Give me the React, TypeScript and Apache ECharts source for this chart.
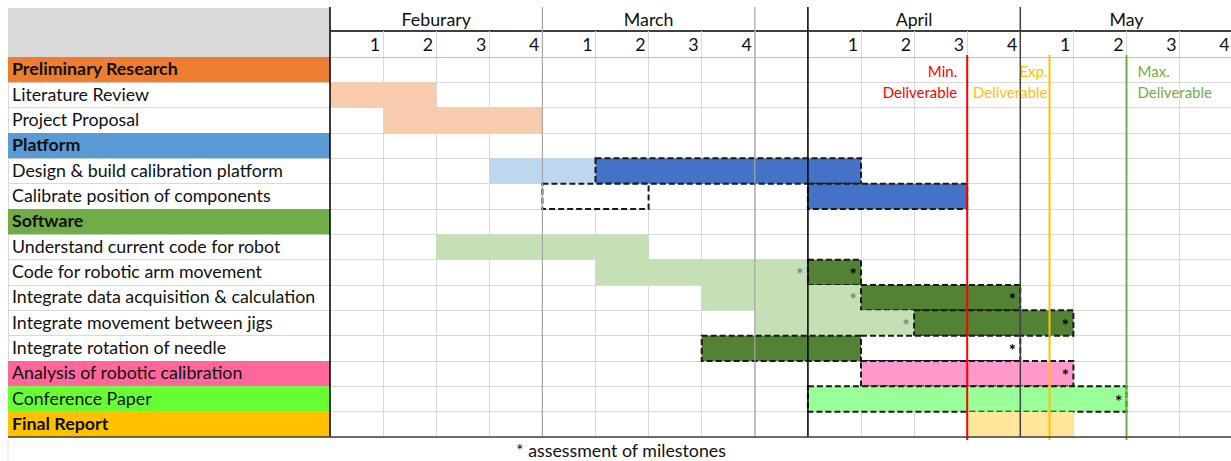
import React, { useEffect, useRef } from 'react';
import * as echarts from 'echarts';

// ---------- data ----------
const tasks = [
  'Preliminary Research',
  'Literature Review',
  'Project Proposal',
  'Platform',
  'Design & build calibration platform',
  'Calibrate position of components',
  'Software',
  'Understand current code for robot',
  'Code for robotic arm movement',
  'Integrate data acquisition & calculation',
  'Integrate movement between jigs',
  'Integrate rotation of needle',
  'Analysis of robotic calibration',
  'Conference Paper',
  'Final Report',
];
const taskGroup = ['prelim', '', '', 'platform', '', '', 'software', '', '', '', '', '', 'analysis', 'paper', 'report'];

const months = ['Feburary', 'March', 'April', 'May'];
const monthStart = [0, 4, 9, 13];
const monthEnd = [4, 8, 13, 17];
const weekLabels = ['1', '2', '3', '4', '1', '2', '3', '4', '', '1', '2', '3', '4', '1', '2', '3', '4'];
const dividerWeek = [0, 4, 8, 9, 13];
const dividerKind = ['strong', 'light', 'light', 'strong', 'medium'];

// bars: row index, start week, end week, kind, milestone mark
const barRow = [1, 2, 4, 4, 5, 5, 7, 8, 8, 9, 9, 10, 10, 11, 11, 12, 13, 14];
const barStart = [0, 1, 3, 5, 4, 9, 2, 5, 9, 7, 10, 8, 11, 7, 10, 10, 9, 12];
const barEnd = [2, 4, 5, 10, 6, 12, 6, 9, 10, 10, 13, 11, 14, 10, 13, 14, 15, 14];
const barKind = ['prelim', 'prelim', 'platPlan', 'plat', 'empty', 'plat', 'swPlan', 'swPlan', 'sw', 'swPlan', 'sw', 'swPlan', 'sw', 'sw', 'empty', 'analysis', 'paper', 'report'];
const barMark = ['', '', '', '', '', '', '', 'gray', 'black', 'gray', 'black', 'gray', 'black', '', 'black', 'black', 'black', ''];

const milestoneLabels = ['Min.\nDeliverable', 'Exp.\nDeliverable', 'Max.\nDeliverable'];
const milestoneWeek = [12, 13.55, 15];
const footnote = '* assessment of milestones';

// ---------- styles ----------
const FONT = 'Lato, "Open Sans", sans-serif';
const FS = 17.8;
const FS_SMALL = 15;
const KIND: Record<string, { fill: string; dash: boolean }> = {
  prelim: { fill: '#F8CBAD', dash: false },
  platPlan: { fill: '#BDD7EE', dash: false },
  plat: { fill: '#4472C4', dash: true },
  empty: { fill: '#FFFFFF', dash: true },
  swPlan: { fill: '#C5E0B4', dash: false },
  sw: { fill: '#548235', dash: true },
  analysis: { fill: '#FF99CC', dash: true },
  paper: { fill: '#99FF99', dash: true },
  report: { fill: '#FFE699', dash: false },
};
const GROUP_FILL: Record<string, string> = {
  prelim: '#ED7D31',
  platform: '#5B9BD5',
  software: '#70AD47',
  analysis: '#FF6699',
  paper: '#66FF33',
  report: '#FFC000',
};
const GROUP_BOLD: Record<string, boolean> = { prelim: true, platform: true, software: true, report: true };
const DIVIDER_COLOR: Record<string, string> = { strong: '#000000', light: '#A6A6A6', medium: '#404040' };
const MILESTONE_COLOR = ['#FF0000', '#FFC000', '#70AD47'];
const MILESTONE_ALIGN = ['right', 'right', 'left'];
const MILESTONE_DX = [-10, -2, 11];

const LEFT = 330;
const COL_W = 53.1;
const HEADER_TOP = 8;
const GRID_TOP = 57;
const GRID_H = 380;
const TEXT = '#111111';

export default function App() {
  const ref = useRef<HTMLDivElement>(null);
  useEffect(() => {
    if (!ref.current) return;
    const chart = echarts.init(ref.current, undefined, { renderer: 'svg' });
    const nWeeks = weekLabels.length;
    const nRows = tasks.length;

    const option: any = {
      animation: false,
      backgroundColor: '#FFFFFF',
      grid: [
        { left: LEFT, top: GRID_TOP, width: nWeeks * COL_W, height: GRID_H, containLabel: false },
        { left: 8, top: GRID_TOP, width: LEFT - 8, height: GRID_H, containLabel: false },
      ],
      xAxis: [
        {
          gridIndex: 0,
          type: 'value',
          position: 'top',
          min: 0,
          max: nWeeks,
          interval: 1,
          axisLine: { show: true, lineStyle: { color: '#BFBFBF', width: 1 } },
          axisTick: { show: true, length: 26, lineStyle: { color: '#D9D9D9' } },
          splitLine: { show: true, lineStyle: { color: '#D9D9D9', width: 1 } },
          axisLabel: {
            show: true,
            showMinLabel: true,
            showMaxLabel: true,
            margin: 13,
            align: 'right',
            verticalAlign: 'middle',
            padding: [0, 3, 0, 0],
            color: TEXT,
            fontFamily: FONT,
            fontSize: FS,
            formatter: (v: number) => (v >= 1 ? weekLabels[v - 1] : ''),
          },
        },
        {
          gridIndex: 0,
          type: 'value',
          position: 'top',
          offset: 26,
          min: 0,
          max: nWeeks,
          interval: 1,
          axisLine: { show: true, lineStyle: { color: '#000000', width: 1.5 } },
          axisTick: { show: false },
          splitLine: { show: false },
          axisLabel: {
            show: true,
            showMinLabel: true,
            showMaxLabel: true,
            margin: 12,
            verticalAlign: 'middle',
            color: TEXT,
            fontFamily: FONT,
            fontSize: FS,
            formatter: (v: number) => {
              const i = months.findIndex((_, k) => (monthStart[k] + monthEnd[k]) / 2 === v);
              return i >= 0 ? months[i] : '';
            },
          },
        },
        { gridIndex: 1, type: 'value', min: 0, max: 1, show: false },
      ],
      yAxis: [
        {
          gridIndex: 0,
          type: 'value',
          inverse: true,
          min: 0,
          max: nRows,
          interval: 1,
          axisLine: { show: false },
          axisTick: { show: false },
          axisLabel: { show: false },
          splitLine: { show: true, lineStyle: { color: '#D9D9D9', width: 1 } },
        },
        {
          gridIndex: 1,
          type: 'value',
          inverse: true,
          min: 0,
          max: nRows,
          interval: 1,
          axisLine: { show: true, lineStyle: { color: '#D9D9D9' } },
          axisTick: { show: false },
          axisLabel: { show: false },
          splitLine: { show: true, lineStyle: { color: '#D9D9D9', width: 1 } },
        },
      ],
      series: [
        // left label column
        {
          type: 'custom',
          xAxisIndex: 2,
          yAxisIndex: 1,
          clip: false,
          z: 2,
          encode: { x: [0, 1], y: 2 },
          data: tasks.map((_, i) => [0, 1, i]),
          renderItem: (params: any, api: any) => {
            const i = params.dataIndex;
            const r = api.value(2);
            const p0 = api.coord([0, r]);
            const p1 = api.coord([1, r + 1]);
            const g = taskGroup[i];
            const children: any[] = [];
            if (g && GROUP_FILL[g]) {
              children.push({
                type: 'rect',
                shape: { x: p0[0], y: p0[1], width: p1[0] - p0[0], height: p1[1] - p0[1] },
                style: { fill: GROUP_FILL[g] },
              });
            }
            children.push({
              type: 'text',
              style: {
                text: tasks[i],
                x: p0[0] + 4,
                y: (p0[1] + p1[1]) / 2 - 1.5,
                align: 'left',
                verticalAlign: 'middle',
                fill: TEXT,
                fontFamily: FONT,
                fontSize: FS,
                fontWeight: GROUP_BOLD[g] ? 'bold' : 'normal',
              },
            });
            return { type: 'group', children };
          },
        },
        // task bars
        {
          type: 'custom',
          xAxisIndex: 0,
          yAxisIndex: 0,
          clip: false,
          z: 3,
          encode: { x: [0, 1], y: 2 },
          data: barRow.map((r, i) => [barStart[i], barEnd[i], r]),
          renderItem: (params: any, api: any) => {
            const i = params.dataIndex;
            const s = api.value(0);
            const e = api.value(1);
            const r = api.value(2);
            const p0 = api.coord([s, r]);
            const p1 = api.coord([e, r + 1]);
            const k = KIND[barKind[i]];
            const children: any[] = [
              {
                type: 'rect',
                shape: { x: p0[0], y: p0[1], width: p1[0] - p0[0], height: p1[1] - p0[1] },
                style: {
                  fill: k.fill,
                  stroke: k.dash ? '#1A1A1A' : null,
                  lineWidth: k.dash ? 2 : 0,
                  lineDash: k.dash ? [6, 3] : null,
                },
              },
            ];
            if (barMark[i]) {
              children.push({
                type: 'text',
                z2: 10,
                style: {
                  text: '*',
                  x: p1[0] - 8,
                  y: (p0[1] + p1[1]) / 2 + 2,
                  align: 'center',
                  verticalAlign: 'middle',
                  fill: barMark[i] === 'black' ? '#000000' : '#808080',
                  fontFamily: FONT,
                  fontSize: 17,
                  fontWeight: 'bold',
                },
              });
            }
            return { type: 'group', children };
          },
        },
        // month dividers
        {
          type: 'custom',
          xAxisIndex: 0,
          yAxisIndex: 0,
          clip: false,
          z: 4,
          encode: { x: 0, y: 1 },
          data: dividerWeek.map((w) => [w, 0]),
          renderItem: (params: any, api: any) => {
            const i = params.dataIndex;
            const top = api.coord([api.value(0), 0]);
            const bot = api.coord([api.value(0), nRows]);
            return {
              type: 'line',
              shape: { x1: top[0], y1: HEADER_TOP - 1, x2: bot[0], y2: bot[1] },
              style: { stroke: DIVIDER_COLOR[dividerKind[i]], lineWidth: dividerKind[i] === 'light' ? 1.2 : 1.5 },
            };
          },
        },
        // milestones
        {
          type: 'custom',
          xAxisIndex: 0,
          yAxisIndex: 0,
          clip: false,
          z: 5,
          encode: { x: 0, y: 1 },
          data: milestoneWeek.map((w) => [w, 0]),
          renderItem: (params: any, api: any) => {
            const i = params.dataIndex;
            const top = api.coord([api.value(0), 0]);
            const bot = api.coord([api.value(0), nRows]);
            return {
              type: 'group',
              children: [
                {
                  type: 'line',
                  shape: { x1: top[0], y1: top[1] - 2, x2: bot[0], y2: bot[1] + 3 },
                  style: { stroke: MILESTONE_COLOR[i], lineWidth: 2 },
                },
                {
                  type: 'text',
                  style: {
                    text: milestoneLabels[i],
                    x: top[0] + MILESTONE_DX[i],
                    y: top[1] + 3,
                    align: MILESTONE_ALIGN[i],
                    verticalAlign: 'top',
                    lineHeight: 21,
                    fill: MILESTONE_COLOR[i],
                    fontFamily: FONT,
                    fontSize: FS_SMALL,
                  },
                },
              ],
            };
          },
        },
      ],
      graphic: [
        {
          type: 'rect',
          z: 1,
          shape: { x: 8, y: HEADER_TOP, width: LEFT - 8, height: GRID_TOP - HEADER_TOP },
          style: { fill: '#D9D9D9' },
        },
        {
          type: 'line',
          z: 10,
          shape: { x1: 8, y1: GRID_TOP + GRID_H, x2: 1240, y2: GRID_TOP + GRID_H },
          style: { stroke: '#404040', lineWidth: 1.5 },
        },
        {
          type: 'line',
          z: 1,
          shape: { x1: 8, y1: GRID_TOP + GRID_H, x2: 8, y2: 461 },
          style: { stroke: '#E3E3E3', lineWidth: 1 },
        },
        {
          type: 'text',
          z: 10,
          style: {
            text: footnote,
            x: 621,
            y: 450,
            align: 'center',
            verticalAlign: 'middle',
            fill: TEXT,
            fontFamily: FONT,
            fontSize: FS,
          },
        },
      ],
    };
    chart.setOption(option);
    return () => chart.dispose();
  }, []);

  return (
    <div style={{ position: 'absolute', left: 0, top: 0, width: 1231, height: 461, overflow: 'hidden', background: '#fff' }}>
      <div ref={ref} style={{ width: 1250, height: 461 }} />
    </div>
  );
}
